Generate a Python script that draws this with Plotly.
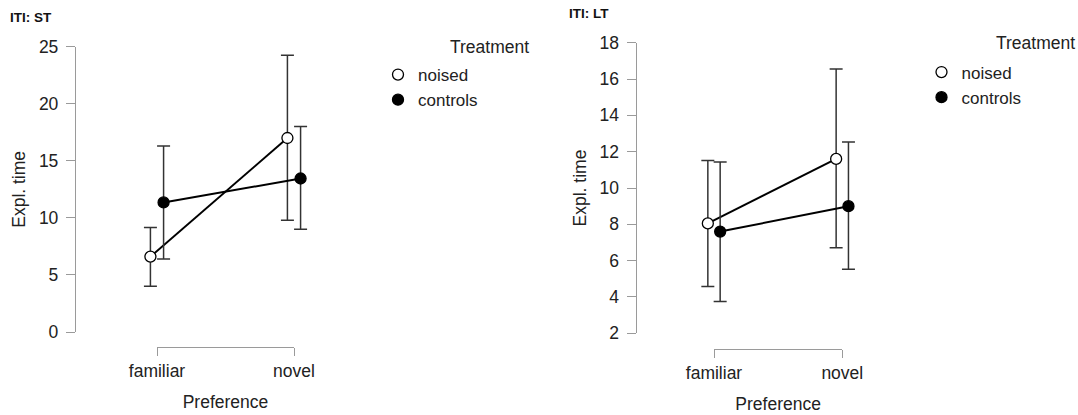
import plotly.graph_objects as go

W, H = 1078, 415

categories = ["familiar", "novel"]
series_names = ["noised", "controls"]

# Panel ITI: ST
st_noised_mean = [6.6, 17.0]
st_noised_low = [4.0, 9.8]
st_noised_high = [9.15, 24.25]
st_controls_mean = [11.35, 13.45]
st_controls_low = [6.4, 9.0]
st_controls_high = [16.3, 18.0]

# Panel ITI: LT
lt_noised_mean = [8.05, 11.6]
lt_noised_low = [4.57, 6.71]
lt_noised_high = [11.52, 16.55]
lt_controls_mean = [7.6, 9.0]
lt_controls_low = [3.75, 5.52]
lt_controls_high = [11.43, 12.53]

st_yticks = [0, 5, 10, 15, 20, 25]
lt_yticks = [2, 4, 6, 8, 10, 12, 14, 16, 18]

FONT = "Liberation Sans, Arial, sans-serif"
dodge = {"noised": -0.048, "controls": 0.048}
fills = {"noised": "white", "controls": "black"}


def px_x(p):
    return p / W


def px_y(p):
    return (H - p) / H


fig = go.Figure()


def add_panel(means, lows, highs, xa, ya, legend):
    for name, m, lo, hi in zip(series_names, means, lows, highs):
        xs = [i + dodge[name] for i in range(len(categories))]
        fig.add_trace(go.Scatter(
            x=xs, y=m, mode="lines+markers", xaxis=xa, yaxis=ya,
            showlegend=False, cliponaxis=False,
            line=dict(color="black", width=2),
            marker=dict(size=11, color=fills[name], line=dict(color="black", width=1.3)),
            error_y=dict(type="data", symmetric=False,
                         array=[h - v for h, v in zip(hi, m)],
                         arrayminus=[v - l for v, l in zip(m, lo)],
                         color="#333333", thickness=1.5, width=6.5),
        ))
    for name in series_names:
        fig.add_trace(go.Scatter(
            x=[None], y=[None], mode="markers", name=name, xaxis=xa, yaxis=ya,
            legend=legend,
            marker=dict(size=11, color=fills[name], line=dict(color="black", width=1.3)),
        ))


add_panel([st_noised_mean, st_controls_mean], [st_noised_low, st_controls_low],
          [st_noised_high, st_controls_high], "x", "y", "legend")
add_panel([lt_noised_mean, lt_controls_mean], [lt_noised_low, lt_controls_low],
          [lt_noised_high, lt_controls_high], "x2", "y2", "legend2")

# bracket axes (dummy traces so the axes exist)
fig.add_trace(go.Scatter(x=[0, 1], y=[None, None], xaxis="x3", yaxis="y",
                         showlegend=False, hoverinfo="skip"))
fig.add_trace(go.Scatter(x=[0, 1], y=[None, None], xaxis="x4", yaxis="y2",
                         showlegend=False, hoverinfo="skip"))

FS = 17.5
tickfont = dict(family=FONT, size=FS, color="#222222")
titlefont = dict(family=FONT, size=FS, color="#222222")


def yaxis_cfg(dom, rng, ticks, anchor):
    return dict(domain=dom, range=rng, tickvals=ticks, showline=True, linecolor="#9a9a9a",
                linewidth=1.3, ticks="outside", ticklen=9, tickcolor="#9a9a9a", tickwidth=1.3,
                showgrid=False, zeroline=False, tickfont=tickfont, ticklabelstandoff=4,
                automargin=False, anchor=anchor,
                title=dict(text="Expl. time", font=titlefont, standoff=8))


def xdata_cfg(dom, rng, anchor):
    return dict(domain=dom, range=rng, visible=False, anchor=anchor, automargin=False)


def xbracket_cfg(dom, pos):
    return dict(domain=dom, range=[0, 1], anchor="free", position=pos,
                tickvals=[0, 1], ticktext=categories, showline=True, linecolor="#9a9a9a",
                linewidth=1.3, ticks="outside", ticklen=8, tickcolor="#9a9a9a", tickwidth=1.3,
                showgrid=False, zeroline=False, tickfont=tickfont, automargin=False,
                title=dict(text="Preference", font=titlefont, standoff=15))


# left panel geometry (pixels)
L_fam, L_nov = 157, 294
L_u = L_nov - L_fam
L_left, L_right = 76, 345
# right panel geometry
R_fam, R_nov = 714, 842.3
R_u = R_nov - R_fam
R_left, R_right = 636.7, 905

legfont = dict(family=FONT, size=17, color="#222222")

fig.update_layout(
    width=W, height=H,
    margin=dict(l=0, r=0, t=0, b=0, autoexpand=False),
    paper_bgcolor="white", plot_bgcolor="rgba(0,0,0,0)",
    font=dict(family=FONT, color="#222222"),
    xaxis=xdata_cfg([px_x(L_left), px_x(L_right)],
                    [(L_left - L_fam) / L_u, (L_right - L_fam) / L_u], "y"),
    yaxis=yaxis_cfg([px_y(332), px_y(46.7)], [0, 25], st_yticks, "x"),
    xaxis2=xdata_cfg([px_x(R_left), px_x(R_right)],
                     [(R_left - R_fam) / R_u, (R_right - R_fam) / R_u], "y2"),
    yaxis2=yaxis_cfg([px_y(333.3), px_y(42.7)], [2, 18], lt_yticks, "x2"),
    xaxis3=xbracket_cfg([px_x(L_fam), px_x(L_nov)], px_y(347)),
    xaxis4=xbracket_cfg([px_x(R_fam), px_x(R_nov)], px_y(349)),
    legend=dict(x=px_x(378), y=px_y(57), xanchor="left", yanchor="top",
                font=legfont, bgcolor="rgba(0,0,0,0)", itemwidth=30, tracegroupgap=0),
    legend2=dict(x=px_x(921.5), y=px_y(54.5), xanchor="left", yanchor="top",
                 font=legfont, bgcolor="rgba(0,0,0,0)", itemwidth=30, tracegroupgap=0),
    showlegend=True,
    annotations=[
        dict(text="Treatment", x=px_x(448), y=px_y(46.7), xref="paper", yref="paper",
             xanchor="left", yanchor="middle", showarrow=False,
             font=dict(family=FONT, size=FS, color="#222222")),
        dict(text="Treatment", x=px_x(994), y=px_y(42.7), xref="paper", yref="paper",
             xanchor="left", yanchor="middle", showarrow=False,
             font=dict(family=FONT, size=FS, color="#222222")),
        dict(text="<b>ITI: ST</b>", x=px_x(8), y=px_y(17.3), xref="paper", yref="paper",
             xanchor="left", yanchor="middle", showarrow=False,
             font=dict(family=FONT, size=13.5, color="#111111")),
        dict(text="<b>ITI: LT</b>", x=px_x(566.7), y=px_y(13.3), xref="paper", yref="paper",
             xanchor="left", yanchor="middle", showarrow=False,
             font=dict(family=FONT, size=13.5, color="#111111")),
    ],
)

fig.write_html(
    "out.html",
    config={"displayModeBar": False},
    post_script="document.body.style.margin='0';document.body.style.overflow='hidden';",
)
